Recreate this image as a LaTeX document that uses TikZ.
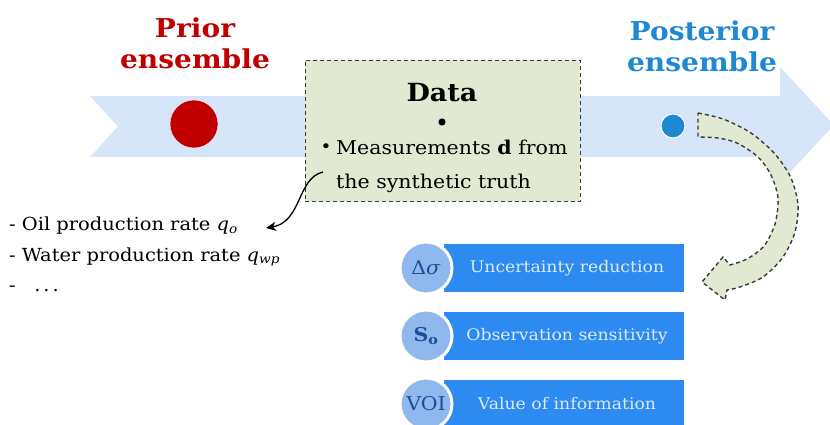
\documentclass[tikz,border=0pt]{standalone}
\usepackage{fontspec}
\setmainfont{DejaVu Serif}[FakeStretch=1.08]
\usepackage{tikz}
\usetikzlibrary{arrows,arrows.meta,positioning}
\definecolor{bandblue}{HTML}{D6E6F8}
\definecolor{priorred}{HTML}{C00000}
\definecolor{postblue}{HTML}{1E88D2}
\definecolor{datagreen}{HTML}{E2E9D3}
\definecolor{barblue}{HTML}{2D8AF0}
\definecolor{disc}{HTML}{8FB8EE}
\definecolor{discink}{HTML}{1C4E98}
\definecolor{bartext}{HTML}{DDEAFB}
\definecolor{dashgrey}{HTML}{3A3A3A}
% italic quantity with a subscript, set in the text font
\newcommand{\qty}[2]{\textit{#1}\textsubscript{\textit{#2}}}

\begin{document}
\begin{tikzpicture}[x=1pt,y=-1pt]

\tikzset{titlered/.style={font=\fontsize{26}{31}\selectfont\bfseries,text=priorred,align=center},
titleblue/.style={font=\fontsize{26}{31}\selectfont\bfseries,text=postblue,align=center},
listitem/.style={font=\fontsize{18}{20}\selectfont,anchor=west,inner sep=0pt},
bartxt/.style={font=\fontsize{16}{18}\selectfont,text=bartext},
barbox/.style={fill=barblue,minimum width=240pt,minimum height=48pt,inner sep=0pt},
metric/.style={circle,fill=disc,draw=white,line width=3pt,minimum size=52pt,inner sep=0pt,text=discink,font=\fontsize{19}{21}\selectfont},
dashedge/.style={draw=dashgrey,dash pattern=on 4pt off 3pt,line width=1.4pt}}

\useasboundingbox (0,0) rectangle (830,425);

% Main arrow
\fill[bandblue] (90,96) -- (780,96) -- (780,67) -- (834,125) -- (780,183) -- (780,157) -- (90,157) -- (118,126.5) -- cycle;

% Ensembles
\node[titlered] (prior) at (195,43) {Prior\\ensemble};
\node[circle,fill=priorred,draw=white,thin,minimum size=48pt] (priordot) at (194,124) {};
\node[titleblue] (posterior) at (702,46) {Posterior\\ensemble};
\node[circle,fill=postblue,draw=white,line width=1pt,minimum size=24pt] (postdot) at (673,126) {};

% Data box
\node[fill=datagreen,draw=dashgrey,dash pattern=on 4pt off 3pt,line width=1pt,minimum width=275pt,minimum height=141pt] (data) at (442.5,131) {};
\node[font=\fontsize{25}{27}\selectfont\bfseries] (datatitle) at (442,93) {Data};
\node[circle,fill=black,draw=white,minimum size=8pt,inner sep=0pt] (datadot) at (442,122) {};
\node[font=\fontsize{17}{18}\selectfont,inner sep=0pt] (bullet) at (326,148) {•};
\node[listitem,font=\fontsize{19}{21}\selectfont] (dline1) at (336,147) {Measurements \textbf{d} from};
\node[listitem,font=\fontsize{19}{21}\selectfont] (dline2) at (336,183) {the synthetic truth};

% Observed quantities
\node[listitem] (oil) at (9,226) {- Oil production rate \qty{q}{o}};
\node[listitem] (water) at (9,257) {- Water production rate \qty{q}{wp}};
\node[listitem] (more) at (9,289) {- \ \ .\,.\,.};

\coordinate (dfrom) at (323,172);
\coordinate (dto) at (266,228);
\draw[-{Stealth[length=10pt,width=9pt,inset=3pt]},line width=1.3pt] (dfrom) .. controls (297,178) and (302,222) .. (dto);

% Update arrow
\fill[datagreen] plot[smooth] coordinates {(698,113) (723,119) (751,133) (775,154) (791,178) (798,205) (795,232) (783,257) (763,277) (740,287) (727,290)}
  -- (725,300) -- (702,282) -- (723,257) --
  plot[smooth] coordinates {(730,265) (747,259) (764,246) (775,224) (778,198) (771,175) (758,157) (737,143) (718,138) (698,137)} -- cycle;
\draw[dashedge] plot[smooth] coordinates {(698,113) (723,119) (751,133) (775,154) (791,178) (798,205) (795,232) (783,257) (763,277) (740,287) (727,290)}
  -- (725,300) -- (702,282) -- (723,257) --
  plot[smooth] coordinates {(730,265) (747,259) (764,246) (775,224) (778,198) (771,175) (758,157) (737,143) (718,138) (698,137)} -- cycle;

% Measures of the update
\node[barbox] (urbar) at (564,268) {};
\node[barbox] (osbar) at (564,336) {};
\node[barbox] (vibar) at (564,404) {};
\node[bartxt] at ([xshift=3pt]urbar.center) {Uncertainty reduction};
\node[bartxt] at ([xshift=3pt]osbar.center) {Observation sensitivity};
\node[bartxt] at ([xshift=3pt]vibar.center) {Value of information};
\node[metric] (ds) at (426,268) {Δ\textit{σ}};
\node[metric] (so) at (426,336) {\textbf{S\textsubscript{o}}};
\node[metric] (voi) at (426,404) {VOI};

\end{tikzpicture}
\end{document}
